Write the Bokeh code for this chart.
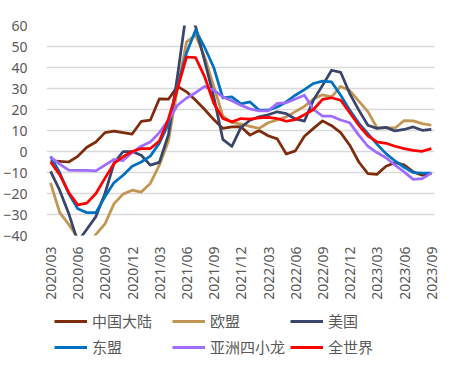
import math
from bokeh.plotting import figure
from bokeh.layouts import column
from bokeh.models import Range1d, FixedTicker, Legend, LegendItem
from bokeh.embed import file_html
from bokeh.resources import INLINE

# months 2020/03 .. 2023/09 (43 monthly points), x = month index
months = list(range(43))
tick_positions = list(range(0, 43, 3))
tick_labels = ["2020/03", "2020/06", "2020/09", "2020/12", "2021/03", "2021/06",
               "2021/09", "2021/12", "2022/03", "2022/06", "2022/09", "2022/12",
               "2023/03", "2023/06", "2023/09"]

china = [-4.5, -4.7, -5.0, -2.3, 2.0, 4.5, 9.0, 9.7, 9.0, 8.3, 14.3, 14.9, 25.1, 24.9,
         31.0, 28.4, 24.4, 20.0, 15.2, 11.0, 11.7, 11.8, 7.8, 10.0, 7.5, 6.0, -1.2, 0.3,
         7.3, 11.0, 14.6, 12.3, 9.0, 3.0, -5.0, -10.5, -10.9, -7.0, -5.3, -6.3, -9.7,
         -11.3, -10.4]
eu = [-15.0, -29.0, -34.7, -41.0, -45.0, -39.5, -34.5, -24.8, -20.3, -18.4, -19.3,
      -15.2, -6.5, 5.0, 30.0, 52.2, 55.4, 45.0, 31.0, 17.0, 13.8, 13.0, 12.0, 11.0, 13.7,
      15.0, 16.5, 19.0, 21.5, 25.0, 27.0, 26.0, 31.0, 29.0, 24.0, 19.0, 11.3, 11.2, 11.2,
      14.7, 14.6, 13.3, 12.5]
us = [-9.5, -18.4, -29.5, -43.0, -37.0, -31.0, -20.0, -5.5, 0.0, 0.0, -1.8, -6.5, -5.2,
      8.0, 36.0, 67.0, 59.5, 43.0, 26.0, 5.8, 2.4, 11.5, 14.9, 16.5, 17.5, 18.9, 18.0,
      15.5, 14.5, 24.5, 31.5, 38.7, 37.7, 27.6, 19.7, 12.5, 11.0, 11.5, 9.8, 10.5, 11.7,
      10.1, 10.5]
asean = [-2.3, -10.0, -20.0, -27.3, -29.1, -29.1, -21.5, -14.8, -11.3, -7.0, -5.0, -2.2,
         4.0, 13.0, 31.0, 47.0, 57.8, 49.5, 40.0, 25.5, 26.0, 22.7, 23.6, 19.7, 19.7, 21.2,
         23.6, 26.8, 29.5, 32.4, 33.5, 33.1, 26.8, 19.7, 13.5, 8.5, 3.5, -1.0, -4.5, -7.5,
         -10.0, -10.3, -10.3]
tigers = [-2.7, -6.0, -8.9, -9.0, -9.0, -9.2, -6.5, -3.8, -4.3, -0.5, 2.5, 4.5, 9.0, 15.0,
          22.0, 25.5, 28.0, 31.0, 29.2, 26.0, 24.2, 22.0, 20.3, 19.3, 19.3, 22.9, 23.2, 25.0,
          26.8, 20.0, 16.8, 16.8, 15.0, 13.7, 7.8, 2.5, -0.5, -3.0, -6.5, -9.7, -13.3,
          -12.9, -10.3]
world = [-5.0, -11.0, -19.5, -25.4, -24.6, -20.0, -12.7, -5.7, -2.5, 0.0, 1.4, 1.4, 5.0,
         15.5, 30.0, 45.0, 44.7, 35.5, 23.0, 15.7, 14.1, 15.7, 15.4, 16.0, 16.2, 15.7, 14.4,
         15.2, 17.5, 20.0, 24.8, 25.6, 24.4, 18.5, 12.5, 7.5, 4.6, 3.9, 2.5, 1.4, 0.5, 0.1, 1.4]

series_names = ["中国大陆", "欧盟", "美国", "东盟", "亚洲四小龙", "全世界"]
series_values = [china, eu, us, asean, tigers, world]
series_colors = ["#7E2C0C", "#C39553", "#39456A", "#0070C0", "#9E6CFF", "#FF0000"]

y_ticks = list(range(-40, 61, 10))
label_color = "#595959"

p = figure(frame_width=388, frame_height=210,
           x_range=Range1d(-0.45, 42.35), y_range=Range1d(-40, 60),
           output_backend="svg", toolbar_location=None,
           min_border_left=45, min_border_right=19, min_border_top=25,
           min_border_bottom=70)
p.outline_line_color = None
p.background_fill_color = "white"
p.border_fill_color = "white"

p.xgrid.visible = False
p.ygrid.grid_line_color = "#D9D9D9"
p.ygrid.grid_line_width = 1.3

p.yaxis.ticker = FixedTicker(ticks=y_ticks)
p.yaxis.axis_line_color = None
p.yaxis.major_tick_line_color = None
p.yaxis.minor_tick_line_color = None
p.yaxis.major_label_standoff = 13
p.yaxis.major_label_text_font = "Noto Sans"
p.yaxis.major_label_text_font_size = "14px"
p.yaxis.major_label_text_color = label_color

p.xaxis.ticker = FixedTicker(ticks=tick_positions)
p.xaxis.major_label_overrides = {pos: lab for pos, lab in zip(tick_positions, tick_labels)}
p.xaxis.major_label_orientation = math.pi / 2
p.xaxis.axis_line_color = None
p.xaxis.major_tick_line_color = None
p.xaxis.minor_tick_line_color = None
p.xaxis.major_label_standoff = 5
p.xaxis.major_label_text_font = "Noto Sans"
p.xaxis.major_label_text_font_size = "14px"
p.xaxis.major_label_text_color = label_color

for name, vals, color in zip(series_names, series_values, series_colors):
    p.line(months, vals, line_color=color, line_width=2.75, line_join="round")

# legend strip below the chart (no axes, so its frame spans the whole strip)
lg = figure(width=452, height=62, x_range=Range1d(0, 1), y_range=Range1d(0, 1),
            x_axis_type=None, y_axis_type=None,
            output_backend="svg", toolbar_location=None,
            min_border_left=0, min_border_right=0, min_border_top=0, min_border_bottom=0)
lg.grid.visible = False
lg.outline_line_color = None
lg.background_fill_color = "white"
lg.border_fill_color = "white"

items = []
for name, color in zip(series_names, series_colors):
    r = lg.line(x=[float("nan")], y=[float("nan")], line_color=color, line_width=3)
    items.append(LegendItem(label=name, renderers=[r]))

legend = Legend(items=items, orientation="horizontal", ncols=3,
                location=(8, 10), margin=0, padding=0,
                glyph_width=33, glyph_height=20, label_height=20, label_width=75,
                label_standoff=5, spacing=5,
                label_text_font="Noto Sans CJK SC", label_text_font_size="15px",
                label_text_color=label_color,
                border_line_color=None, background_fill_alpha=0)
lg.add_layout(legend, "center")

layout = column(p, lg, spacing=0)
open("out.html", "w").write(file_html(layout, INLINE))
